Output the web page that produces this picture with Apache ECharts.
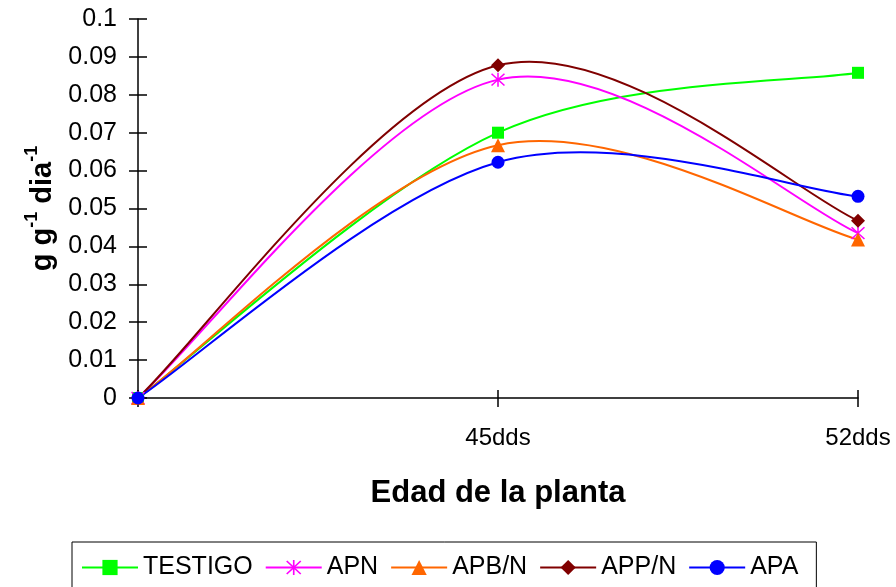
<!DOCTYPE html>
<html>
<head>
<meta charset="utf-8">
<script src="https://cdn.jsdelivr.net/npm/echarts@6/dist/echarts.min.js"></script>
<style>html,body{margin:0;padding:0;background:#fff;}#c{width:896px;height:587px;}</style>
</head>
<body>
<div id="c"></div>
<script>
const categories = ['', '45dds', '52dds'];
const testigo = [0, 0.070, 0.0858];
const apn = [0, 0.0840, 0.0435];
const apbn = [0, 0.0667, 0.0418];
const appn = [0, 0.0878, 0.0468];
const apa = [0, 0.0622, 0.0532];
const seriesNames = ['TESTIGO', 'APN', 'APB/N', 'APP/N', 'APA'];
const seriesColors = ['#00FF00', '#FF00FF', '#FF6600', '#800000', '#0000FF'];

const starPath = 'path://M45,0 L55,0 L55,100 L45,100 Z M4,11 L11,4 L96,89 L89,96 Z M89,4 L96,11 L11,96 L4,89 Z';
const symbols = ['rect', starPath, 'triangle', 'diamond', 'circle'];
const sizes = [12, 14, 14, 14, 13];
const dataSets = [testigo, apn, apbn, appn, apa];

const chart = echarts.init(document.getElementById('c'));
const font = 'Liberation Sans, Arial, sans-serif';

// Excel-like smoothed curve (Catmull-Rom style Bezier), points taken through the axes via api.coord
function curveRenderer(values, color) {
  return function (params, api) {
    if (params.dataIndex !== 0) return null;
    const p = values.map((v, i) => api.coord([i, v]));
    const n = p.length;
    const P = i => p[Math.max(0, Math.min(n - 1, i))];
    const children = [];
    for (let i = 0; i < n - 1; i++) {
      const p0 = P(i - 1), p1 = P(i), p2 = P(i + 1), p3 = P(i + 2);
      children.push({
        type: 'bezierCurve',
        shape: {
          x1: p1[0], y1: p1[1], x2: p2[0], y2: p2[1],
          cpx1: p1[0] + (p2[0] - p0[0]) / 6, cpy1: p1[1] + (p2[1] - p0[1]) / 6,
          cpx2: p2[0] - (p3[0] - p1[0]) / 6, cpy2: p2[1] - (p3[1] - p1[1]) / 6
        },
        style: { stroke: color, lineWidth: 2, fill: null }
      });
    }
    return { type: 'group', children };
  };
}

const curveSeries = seriesNames.map((n, i) => ({
  name: n + ' curve', type: 'custom',
  data: dataSets[i].map((v, j) => [j, v]),
  encode: { x: 0, y: 1 },
  renderItem: curveRenderer(dataSets[i], seriesColors[i]),
  clip: false, silent: true, z: 1 + i * 0.01
}));

const markSeries = seriesNames.map((n, i) => ({
  name: n, type: 'line', data: dataSets[i],
  symbol: symbols[i], symbolSize: sizes[i], showAllSymbol: true,
  lineStyle: { color: seriesColors[i], width: 2, opacity: 0 },
  itemStyle: { color: seriesColors[i] },
  z: 3 + i * 0.01
}));

chart.setOption({
  animation: false,
  backgroundColor: '#fff',
  grid: { left: 138, right: 38, top: 19, bottom: 189, containLabel: false },
  legend: {
    left: 72, top: 542,
    itemWidth: 56, itemHeight: 19, itemGap: 12,
    padding: [13, 18, 20, 9],
    borderColor: '#000', borderWidth: 1,
    lineStyle: { opacity: 1, width: 2 },
    textStyle: { fontFamily: font, fontSize: 25, color: '#000' },
    data: seriesNames
  },
  xAxis: [{
    type: 'category', data: categories, boundaryGap: false,
    axisLine: { lineStyle: { color: '#000', width: 1.5 } },
    axisTick: { show: true, length: 9, lineStyle: { color: '#000', width: 1.5 } },
    axisLabel: { color: '#000', fontFamily: font, fontSize: 24, margin: 28 },
    name: 'Edad de la planta', nameLocation: 'middle', nameGap: 80,
    nameTextStyle: { color: '#000', fontFamily: font, fontSize: 31, fontWeight: 'bold' }
  }, {
    type: 'category', data: categories, boundaryGap: false, position: 'bottom',
    axisLine: { show: false },
    axisTick: { show: true, inside: true, length: 8, lineStyle: { color: '#000', width: 1.5 } },
    axisLabel: { show: false }
  }],
  yAxis: [{
    type: 'value', min: 0, max: 0.1, interval: 0.01,
    axisLine: { show: true, lineStyle: { color: '#000', width: 1.5 } },
    axisTick: { show: true, length: 9, lineStyle: { color: '#000', width: 1.5 } },
    splitLine: { show: false },
    axisLabel: { color: '#000', fontFamily: font, fontSize: 25, margin: 21,
      formatter: v => String(+v.toFixed(2)) },
    name: '{m|g g}{s|-1}{m| dia}{s|-1}', nameLocation: 'middle', nameGap: 79,
    nameTextStyle: { color: '#000', fontFamily: font, fontWeight: 'bold',
      rich: {
        m: { fontSize: 29, fontWeight: 'bold', fontFamily: font, color: '#000', verticalAlign: 'bottom', lineHeight: 34 },
        s: { fontSize: 18, fontWeight: 'bold', fontFamily: font, color: '#000', verticalAlign: 'top', lineHeight: 34, padding: [0, 0, 14, 0] }
      } }
  }, {
    type: 'value', min: 0, max: 0.1, interval: 0.01, position: 'left',
    axisLine: { show: false },
    axisTick: { show: true, inside: true, length: 9, lineStyle: { color: '#000', width: 1.5 } },
    splitLine: { show: false },
    axisLabel: { show: false }
  }],
  series: curveSeries.concat(markSeries)
});
</script>
</body>
</html>
